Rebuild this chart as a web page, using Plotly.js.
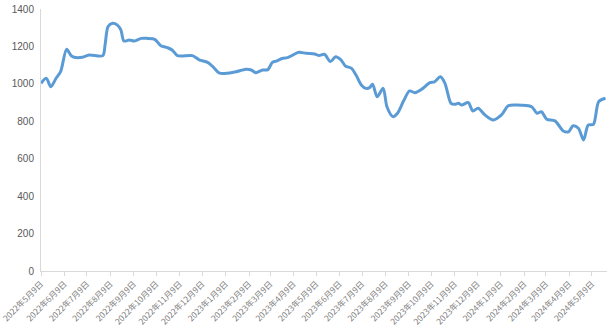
<!DOCTYPE html>
<html>
<head>
<meta charset="utf-8">
<script src="https://cdn.plot.ly/plotly-3.0.1.min.js"></script>
<style>html,body{margin:0;padding:0;background:#fff;}#chart{width:609px;height:335px;}</style>
</head>
<body>
<div id="chart"></div>
<script>
const dates = [
"2022-05-09","2022-05-16","2022-05-22","2022-05-29","2022-06-04","2022-06-12","2022-06-18","2022-06-22",
"2022-07-03","2022-07-12","2022-07-30","2022-08-02","2022-08-06","2022-08-12","2022-08-18","2022-08-23",
"2022-08-27","2022-09-03","2022-09-10","2022-09-19","2022-09-27","2022-10-07","2022-10-15","2022-10-24",
"2022-10-30","2022-11-06","2022-11-26","2022-12-05","2022-12-16","2022-12-23","2023-01-01","2023-01-12",
"2023-01-23","2023-02-05","2023-02-12","2023-02-18","2023-02-27","2023-03-06","2023-03-12","2023-03-17",
"2023-03-26","2023-04-01","2023-04-08","2023-04-16","2023-04-26","2023-05-07","2023-05-13","2023-05-20",
"2023-05-28","2023-06-04","2023-06-11","2023-06-17","2023-06-25","2023-07-01","2023-07-08","2023-07-14",
"2023-07-19","2023-07-23","2023-07-29","2023-08-06","2023-08-11","2023-08-19","2023-08-25","2023-09-02",
"2023-09-10","2023-09-17","2023-09-26","2023-10-07","2023-10-13","2023-10-21","2023-10-27","2023-11-04",
"2023-11-09","2023-11-14","2023-11-18","2023-11-27","2023-12-03","2023-12-10","2023-12-19","2023-12-30",
"2024-01-10","2024-01-19","2024-01-30","2024-02-19","2024-02-26","2024-03-03","2024-03-10","2024-03-21",
"2024-04-01","2024-04-08","2024-04-14","2024-04-21","2024-04-28","2024-05-04","2024-05-11","2024-05-18",
"2024-05-27"
];
const values = [
1003,1030,985,1030,1065,1185,1151,1142,
1142,1154,1151,1208,1306,1324,1315,1288,
1229,1234,1229,1243,1243,1238,1204,1193,
1181,1151,1151,1128,1115,1092,1057,1057,
1065,1078,1074,1060,1074,1076,1115,1122,
1137,1140,1154,1169,1163,1160,1151,1158,
1119,1145,1128,1095,1083,1047,994,976,
980,998,931,976,878,825,843,908,
962,953,971,1006,1011,1038,1003,896,
891,896,887,900,855,870,834,807,
834,883,887,878,843,851,811,802,
748,744,776,763,700,780,784,905,
923
];
const tickDates = [
"2022-05-09","2022-06-09","2022-07-09","2022-08-09","2022-09-09","2022-10-09","2022-11-09","2022-12-09",
"2023-01-09","2023-02-09","2023-03-09","2023-04-09","2023-05-09","2023-06-09","2023-07-09","2023-08-09",
"2023-09-09","2023-10-09","2023-11-09","2023-12-09","2024-01-09","2024-02-09","2024-03-09","2024-04-09",
"2024-05-09"
];
const tickLabels = [
"2022年5月9日","2022年6月9日","2022年7月9日","2022年8月9日","2022年9月9日","2022年10月9日","2022年11月9日","2022年12月9日",
"2023年1月9日","2023年2月9日","2023年3月9日","2023年4月9日","2023年5月9日","2023年6月9日","2023年7月9日","2023年8月9日",
"2023年9月9日","2023年10月9日","2023年11月9日","2023年12月9日","2024年1月9日","2024年2月9日","2024年3月9日","2024年4月9日",
"2024年5月9日"
];

const trace = {
  x: dates, y: values, type: 'scatter', mode: 'lines',
  line: {color: '#5B9BD5', width: 3, shape: 'spline', smoothing: 0.8},
  hoverinfo: 'x+y'
};
const layout = {
  width: 609, height: 335,
  margin: {l: 41, r: 2, t: 9, b: 64},
  paper_bgcolor: '#fff', plot_bgcolor: '#fff',
  showlegend: false,
  font: {family: '"Noto Sans CJK SC", "Noto Sans", sans-serif', color: '#595959'},
  xaxis: {
    type: 'date',
    range: ['2022-05-09', '2024-05-29'],
    tickmode: 'array', tickvals: tickDates, ticktext: tickLabels,
    tickangle: -45,
    tickfont: {size: 8.3, color: '#7f7f7f'},
    ticklabeloverflow: 'allow',
    showgrid: false, zeroline: false,
    showline: true, linecolor: '#d9d9d9', linewidth: 1,
    ticks: 'outside', ticklen: 4, tickcolor: '#d9d9d9'
  },
  yaxis: {
    range: [0, 1400], dtick: 200, tick0: 0,
    tickfont: {size: 10, color: '#595959', family: '"Liberation Sans", Arial, sans-serif'},
    showgrid: false, zeroline: false,
    showline: true, linecolor: '#d9d9d9', linewidth: 1,
    ticks: '', ticklabelstandoff: 4
  }
};
Plotly.newPlot('chart', [trace], layout, {staticPlot: true, displayModeBar: false});
</script>
</body>
</html>
